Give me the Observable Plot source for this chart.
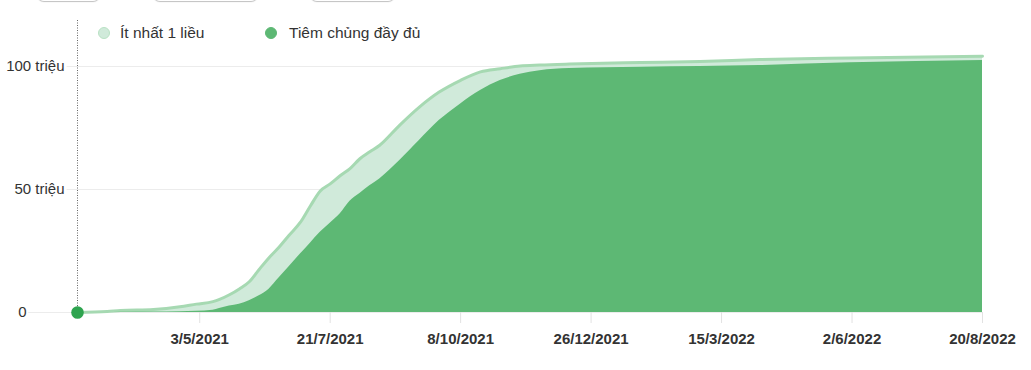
<!DOCTYPE html>
<html>
<head>
<meta charset="utf-8">
<script src="https://cdn.jsdelivr.net/npm/d3@7"></script>
<script src="https://cdn.jsdelivr.net/npm/@observablehq/plot@0.6"></script>
<style>
  body { margin: 0; background: #fff; font-family: "Liberation Sans", Arial, sans-serif; }
  #wrap { position: relative; width: 1031px; height: 370px; overflow: hidden; }
  .pill { position: absolute; top: -14px; height: 15px; border-radius: 7px; background: #fff; box-shadow: 0 1px 1px rgba(0,0,0,0.25); }
  .lg-dot { position: absolute; width: 12px; height: 12px; border-radius: 50%; box-sizing: border-box; }
  .lg-txt { position: absolute; font-size: 15.5px; line-height: 18px; color: #333; white-space: nowrap; }
  #chart { position: absolute; left: 0; top: 0; }
  #chart g[aria-label="x-axis tick label"] text { font-weight: bold; }
</style>
</head>
<body>
<div id="wrap">
  <div class="pill" style="left:37px;width:63px"></div>
  <div class="pill" style="left:153px;width:105px"></div>
  <div class="pill" style="left:310px;width:85px"></div>
  <div id="chart"></div>
  <div id="legend"></div>
</div>
<script>
// ---- data (millions of people) ----
const dates = ["2021-02-18","2021-03-08","2021-03-16","2021-04-05","2021-04-21","2021-05-01","2021-05-11","2021-05-15","2021-05-21","2021-05-27","2021-06-02","2021-06-08","2021-06-14","2021-06-20","2021-06-26","2021-07-03","2021-07-09","2021-07-15","2021-07-21","2021-07-27","2021-08-02","2021-08-08","2021-08-14","2021-08-20","2021-09-01","2021-09-13","2021-09-25","2021-10-08","2021-10-20","2021-11-01","2021-11-13","2021-11-25","2021-12-13","2022-01-25","2022-03-02","2022-04-07","2022-06-01","2022-08-20"];
const atLeastOneDose = [0,0.4,0.8,1.2,2.3,3.4,4.4,5.3,7.2,9.6,12.5,17.5,22.3,26.5,31.3,36.7,43.3,49.4,52.3,55.6,58.5,62.5,65.3,68.0,76.1,83.5,89.6,94.4,97.8,99.1,100.2,100.6,101.0,101.6,102.0,102.8,103.5,104.2];
const fullyVaccinated = [0,0,0.1,0.2,0.3,0.5,0.9,1.6,2.6,3.4,4.8,6.8,9.5,14.0,18.5,23.8,28.2,32.6,36.3,40.0,45.2,48.4,51.5,54.3,61.7,69.9,78.0,84.8,90.2,94.3,96.8,98.3,99.2,99.7,100.0,100.4,101.5,102.4];
const seriesNames = ["Ít nhất 1 liều", "Tiêm chủng đầy đủ"];
const yTicks = [0, 50, 100];
const yTickLabels = ["0", "50 triệu", "100 triệu"];
const xTickDates = ["2021-05-03","2021-07-21","2021-10-08","2021-12-26","2022-03-15","2022-06-02","2022-08-20"];
const xTickLabels = ["3/5/2021","21/7/2021","8/10/2021","26/12/2021","15/3/2022","2/6/2022","20/8/2022"];

const colors = { lightFill: "#d0eada", lightLine: "#a6d9b2", dark: "#5db874", dot: "#2ea44f" };

const data = dates.map((d, i) => ({ date: new Date(d), one: atLeastOneDose[i], full: fullyVaccinated[i] }));
const xt = xTickDates.map(d => new Date(d));
const yt = yTicks.map((v, i) => ({ v, label: yTickLabels[i] }));

const chart = Plot.plot({
  width: 1031,
  height: 370,
  marginLeft: 77,
  marginRight: 49,
  marginTop: 66,
  marginBottom: 58,
  style: { fontFamily: '"Liberation Sans", Arial, sans-serif', background: "transparent", overflow: "visible" },
  x: { type: "utc", domain: [data[0].date, data[data.length - 1].date], axis: null },
  y: { domain: [0, 100], axis: null },
  marks: [
    Plot.ruleY(yTicks, { stroke: "#ececec", strokeWidth: 1, insetLeft: -49 }),
    Plot.text(yt.filter(d => d.v !== 0), { x: data[0].date, y: "v", text: "label", textAnchor: "end", dx: -13, fontSize: 15, fill: "#333", stroke: "white", strokeWidth: 6, paintOrder: "stroke" }),
    Plot.text(yt.filter(d => d.v === 0), { x: data[0].date, y: "v", text: "label", textAnchor: "end", dx: -51, fontSize: 15, fill: "#333", stroke: "white", strokeWidth: 4, paintOrder: "stroke" }),
    Plot.areaY(data, { x: "date", y: "one", fill: colors.lightFill, curve: "monotone-x" }),
    Plot.lineY(data, { x: "date", y: "one", stroke: colors.lightLine, strokeWidth: 3, curve: "monotone-x" }),
    Plot.areaY(data, { x: "date", y: "full", fill: colors.dark, curve: "monotone-x" }),
    Plot.ruleX([data[0].date], { stroke: "#666", strokeDasharray: "1,1.5", insetTop: -46 }),
    Plot.dot([data[0]], { x: "date", y: "one", r: 6.3, fill: colors.dot }),
    Plot.axisX(xt, {
      tickSize: 11, tickPadding: 10, stroke: "#e2e2e2", fill: "#333", fontSize: 15, fontWeight: "bold",
      tickFormat: d => xTickLabels[xt.findIndex(t => +t === +d)]
    })
  ]
});
document.getElementById("chart").appendChild(chart);

// legend
const legend = document.getElementById("legend");
const items = [
  { name: seriesNames[0], fill: colors.lightFill, border: "#b9e2c4", dotLeft: 98, textLeft: 120 },
  { name: seriesNames[1], fill: colors.dark, border: colors.dark, dotLeft: 265, textLeft: 289 }
];
items.forEach(it => {
  const dot = document.createElement("div");
  dot.className = "lg-dot";
  dot.style.left = it.dotLeft + "px";
  dot.style.top = "27px";
  dot.style.background = it.fill;
  dot.style.border = "1.5px solid " + it.border;
  legend.appendChild(dot);
  const t = document.createElement("div");
  t.className = "lg-txt";
  t.style.left = it.textLeft + "px";
  t.style.top = "24px";
  t.textContent = it.name;
  legend.appendChild(t);
});
</script>
</body>
</html>
